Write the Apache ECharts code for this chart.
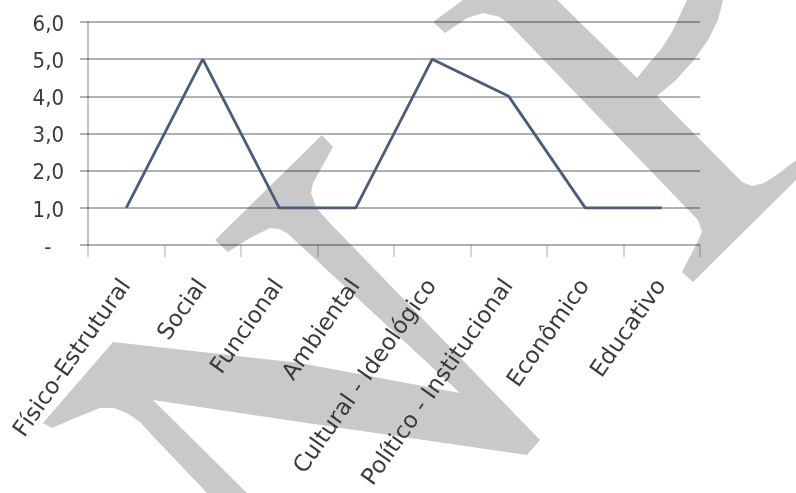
<!DOCTYPE html>
<html>
<head>
<meta charset="utf-8">
<script src="https://cdn.jsdelivr.net/npm/echarts@6/dist/echarts.min.js"></script>
<style>
html,body{margin:0;padding:0;background:#fff;}
#chart{width:796px;height:493px;}
</style>
</head>
<body>
<div id="chart"></div>
<script>
// ---- data ----
const categories = ['Físico-Estrutural', 'Social', 'Funcional', 'Ambiental', 'Cultural - Ideológico', 'Político - Institucional', 'Econômico', 'Educativo'];
const values = [1, 5, 1, 1, 5, 4, 1, 1];
const yMin = 0;
const yMax = 6;
const yStep = 1;

// ---- decorative watermark outline (background shapes, not data) ----
const wmLeft = [[322,135],[333,147],[313,183],[311,193],[316,207],[327,220],[540,440],[527,455],[300,422],[153,400],[247,493],[207,493],[150,433],[140,422],[127,413],[114,408],[100,408],[75,418],[52,428],[43,423],[113,342],[300,363],[460,393],[287,233],[279,229],[270,228],[250,238],[228,252],[215,240]];
const wmRight = [[463,0],[557,0],[637,78],[650,62],[662,48],[672,32],[680,15],[687,0],[723,0],[718,20],[708,40],[694,60],[676,80],[657,96],[742,182],[752,186],[764,183],[778,174],[796,160],[796,180],[693,282],[682,272],[697,243],[702,232],[698,220],[510,25],[500,17],[483,13],[467,18],[445,33],[433,22]];

const chart = echarts.init(document.getElementById('chart'), null, {renderer: 'canvas'});
const gridCol = 'rgba(0,0,0,0.31)';
const option = {
  animation: false,
  backgroundColor: 'transparent',
  grid: {left: 88, right: 96, top: 22, bottom: 248, containLabel: false},
  xAxis: {
    type: 'category',
    zlevel: 1,
    data: categories,
    boundaryGap: true,
    axisLine: {show: false},
    axisTick: {show: true, length: 12, interval: 0, lineStyle: {color: 'rgba(0,0,0,0.22)', width: 1.5}},
    axisLabel: {interval: 0, rotate: 55, margin: 37, fontFamily: 'DejaVu Sans', fontSize: 23, color: '#3a3a3a'}
  },
  yAxis: {
    type: 'value',
    zlevel: 1,
    min: yMin,
    max: yMax,
    interval: yStep,
    axisLine: {show: true, lineStyle: {color: 'rgba(0,0,0,0.33)', width: 1.5}},
    axisTick: {show: true, length: 8, lineStyle: {color: gridCol, width: 2}},
    splitLine: {show: true, lineStyle: {color: gridCol, width: 2.2}},
    axisLabel: {
      margin: 24,
      fontFamily: "'DejaVu Sans Condensed', 'DejaVu Sans'",
      fontSize: 22,
      color: '#3a3a3a',
      verticalAlign: 'top',
      padding: [-8, 0, 0, 0],
      formatter: function (v) { return v === 0 ? '-  ' : v.toFixed(1).replace('.', ','); }
    }
  },
  series: [{
    type: 'line',
    zlevel: 1,
    data: values,
    symbol: 'none',
    lineStyle: {color: '#4a5c7c', width: 2.8},
    z: 5
  }],
  graphic: [
    {type: 'polygon', silent: true, shape: {points: wmLeft}, style: {fill: '#c9c9c9'}},
    {type: 'polygon', silent: true, shape: {points: wmRight}, style: {fill: '#c9c9c9'}}
  ]
};
chart.setOption(option);
</script>
</body>
</html>
